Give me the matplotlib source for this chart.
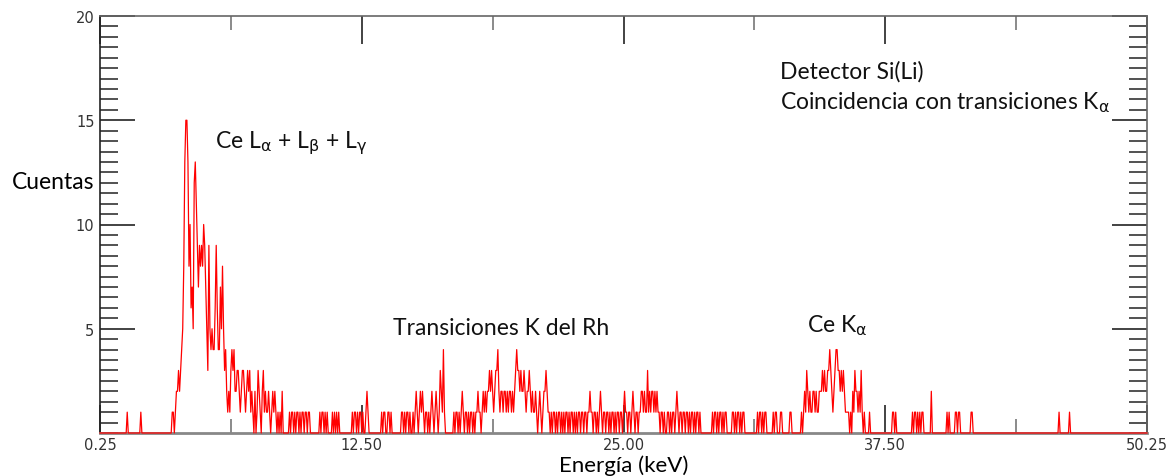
import numpy as np
import matplotlib
matplotlib.use("Agg")
import matplotlib.pyplot as plt
from matplotlib.ticker import MultipleLocator, FixedLocator

# ---------------- data ----------------
x_min, x_max = 0.25, 50.25
channel_width_keV = 0.05
y_max = 20

x_tick_labels = ["0.25", "12.50", "25.00", "37.50", "50.25"]
y_tick_values = [5, 10, 15, 20]

# nonzero stretches of the spectrum: start energy (keV) and counts per channel
segment_start_keV = [1.55, 2.20, 3.70, 9.30, 10.75, 11.35, 12.30, 13.70, 14.65,
                     29.50, 30.45, 31.65, 38.10, 39.05, 39.95, 40.70, 41.10,
                     41.85, 46.05, 46.55]
segment_counts = [
    [1],
    [1],
    [1, 1, 0, 1, 2, 2, 3, 2, 3, 4, 5,
     8, 13, 15, 15, 13, 8, 10, 6, 7, 5,
     12, 13, 11, 9, 7, 9, 8, 9, 8, 10,
     9, 7, 5, 3, 9, 5, 4, 5, 4, 4,
     6, 9, 6, 4, 4, 7, 5, 8, 5, 3,
     4, 2, 1, 2, 1, 3, 4, 3, 4, 2,
     2, 3, 3, 2, 1, 2, 3, 3, 2, 1,
     2, 3, 2, 3, 1, 2, 1, 0, 2, 0,
     1, 3, 2, 1, 0, 2, 3, 1, 2, 1,
     1, 2, 1, 0, 1, 2, 1, 2, 1, 0,
     1, 0, 1, 0, 2],
    [1, 0, 1, 1, 0, 1, 0, 1, 1, 0, 1, 0, 1, 1, 0, 1, 1, 0, 1, 1],
    [1, 0, 1, 1, 0, 1, 0, 1],
    [1, 0, 1, 0, 1, 0, 1],
    [1, 0, 1, 1, 0, 1, 0, 1, 1, 0, 1, 0, 0, 1, 2, 1],
    [1, 0, 1, 1, 0, 0, 1, 1, 0, 1],
    [1, 1, 0, 1, 0, 1, 1, 0, 1, 0,
     0, 1, 0, 1, 2, 1, 0, 1, 2, 1,
     2, 1, 0, 1, 1, 0, 1, 0, 1, 2,
     1, 0, 1, 2, 1, 0, 1, 3, 2, 1,
     4, 1, 0, 0, 0, 0, 0, 0, 0, 0,
     1, 0, 1, 1, 0, 1, 0, 1, 2, 1,
     0, 1, 1, 0, 1, 0, 1, 1, 0, 1,
     0, 1, 1, 2, 1, 1, 0, 1, 2, 1,
     2, 1, 2, 2, 3, 2, 3, 2, 1, 2,
     3, 3, 4, 2, 1, 2, 2, 1, 2, 2,
     1, 2, 1, 2, 2, 1, 2, 1, 2, 3,
     4, 3, 3, 2, 3, 2, 2, 3, 2, 1,
     2, 2, 3, 2, 1, 2, 1, 1, 2, 1,
     0, 1, 2, 1, 0, 1, 2, 2, 3, 2,
     1, 1, 0, 1, 0, 1, 1, 0, 1, 0,
     1, 1, 0, 1, 0, 1, 0, 1, 1, 0,
     1, 0, 1, 1, 0, 1, 0, 1, 0, 1,
     1, 0, 1, 1, 0, 1, 1, 0, 1, 1,
     2, 1, 1, 0, 1, 1, 0, 1, 0, 1,
     2, 1, 0, 1, 1, 0, 1, 1, 0, 1,
     0, 1, 1, 0, 1, 0, 1, 1, 0, 1,
     1, 0, 1, 2, 1, 1, 0, 1, 1, 0,
     1, 2, 1, 0, 1, 1, 0, 1, 1, 2,
     2, 1, 2, 1, 1, 3, 1, 2, 1, 2,
     2, 1, 2, 1, 2, 1, 1, 0, 1, 1,
     0, 1, 0, 0, 1, 1, 0, 1, 0, 1,
     1, 0, 1, 2, 1, 0, 1, 1, 0, 1,
     1, 0, 1, 1, 0, 1, 0, 1, 1, 0,
     1, 0, 1, 1, 0, 1],
    [1, 0, 1, 1, 0, 1, 0, 1, 1, 0, 1, 0, 1, 1, 0],
    [1, 1, 0, 1, 0, 1, 1, 0, 1, 0, 1, 1, 0],
    [1, 0, 1, 1, 0, 1, 0, 1, 1, 0,
     0, 0, 0, 0, 0, 1, 0, 1, 1, 0,
     0, 0, 1, 1, 0, 0, 0, 0, 0, 0,
     0, 1, 1, 0, 0, 0, 0, 0, 0, 0,
     0, 0, 1, 0, 1, 2, 1, 3, 2, 1,
     2, 1, 1, 2, 2, 1, 2, 1, 1, 2,
     2, 2, 3, 2, 3, 2, 2, 3, 3, 4,
     3, 2, 1, 2, 3, 4, 4, 3, 3, 2,
     3, 2, 3, 2, 1, 1, 1, 1, 0, 1,
     0, 2, 1, 3, 2, 2, 1, 2, 1, 3,
     1, 0, 1, 0, 0, 0, 0, 1, 0, 0],
    [1, 1, 0, 1],
    [1, 0, 1, 1, 0, 1, 0, 1, 0, 1, 1],
    [2],
    [1, 0, 1],
    [1, 1, 0, 1, 1],
    [1, 1],
    [1],
    [1],
]

annotations = [
    (5.74, 13.96, r"Ce L$_{\alpha}$ + L$_{\beta}$ + L$_{\gamma}$"),
    (14.24, 5.08, "Transiciones K del Rh"),
    (34.02, 5.18, r"Ce K$_{\alpha}$"),
    (32.73, 17.36, "Detector Si(Li)"),
    (32.73, 15.92, r"Coincidencia con transiciones K$_{\alpha}$"),
]

# ---------------- build spectrum ----------------
n_channels = int(round((x_max - x_min) / channel_width_keV)) + 1
energy = x_min + channel_width_keV * np.arange(n_channels)
counts = np.zeros(n_channels)
for start, vals in zip(segment_start_keV, segment_counts):
    i0 = int(round((start - x_min) / channel_width_keV))
    counts[i0:i0 + len(vals)] = vals

# ---------------- plot ----------------
plt.rcParams["font.family"] = ["Lato", "DejaVu Sans"]
plt.rcParams["mathtext.fontset"] = "custom"
plt.rcParams["mathtext.rm"] = "DejaVu Sans"
plt.rcParams["mathtext.it"] = "DejaVu Sans"

fig = plt.figure(figsize=(11.69, 4.77), dpi=100)
ax = fig.add_axes([100 / 1169, 43 / 477, 1047 / 1169, 417 / 477])

ax.plot(energy, counts, color="#ff0000", lw=0.9, clip_on=False, zorder=3)

ax.set_xlim(x_min, x_max)
ax.set_ylim(0, y_max)

major_x = np.linspace(x_min, x_max, len(x_tick_labels))
ax.xaxis.set_major_locator(FixedLocator(major_x))
ax.set_xticklabels(x_tick_labels)
ax.xaxis.set_minor_locator(FixedLocator((major_x[:-1] + major_x[1:]) / 2))
ax.set_yticks(y_tick_values)
ax.set_yticklabels([str(v) for v in y_tick_values])
ax.yaxis.set_minor_locator(MultipleLocator(0.5))

ax.tick_params(axis="x", which="major", direction="in", top=True, bottom=True,
               length=20, width=1.2, color="#222222", labelsize=10.5,
               labelcolor="#333333", pad=3)
ax.tick_params(axis="x", which="minor", direction="in", top=True, bottom=True,
               length=10, width=1.2, color="#777777")
ax.tick_params(axis="y", which="major", direction="in", left=True, right=True,
               length=25, width=1.2, color="#222222", labelsize=10.5,
               labelcolor="#333333", pad=4)
ax.tick_params(axis="y", which="minor", direction="in", left=True, right=True,
               length=13, width=1.2, color="#333333")
for lab in ax.get_xticklabels() + ax.get_yticklabels():
    lab.set_family("DejaVu Sans")

ax.spines["left"].set_color("#222222")
ax.spines["left"].set_linewidth(1.2)
ax.spines["bottom"].set_color("#888888")
ax.spines["bottom"].set_linewidth(2.0)
ax.spines["top"].set_color("#666666")
ax.spines["top"].set_linewidth(1.2)
ax.spines["right"].set_color("#666666")
ax.spines["right"].set_linewidth(1.2)

ax.set_xlabel("Energía (keV)", fontsize=16)
ax.xaxis.set_label_coords(0.5, -0.052)
ax.xaxis.label.set_va("top")
ax.set_ylabel("Cuentas", fontsize=16.5, rotation=0)
ax.yaxis.set_label_coords(-0.045, 0.602)
ax.yaxis.label.set_va("center")

for x, y, t in annotations:
    ax.text(x, y, t, fontsize=16.5, ha="left", va="center", color="#111111")

fig.savefig("out.png", dpi=100, facecolor="white")
